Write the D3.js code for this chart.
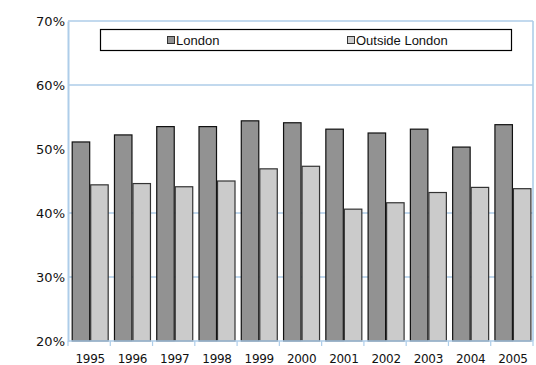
<!DOCTYPE html>
<html>
<head>
<meta charset="utf-8">
<script src="https://cdn.jsdelivr.net/npm/d3@7/dist/d3.min.js"></script>
<style>
  html, body { margin: 0; padding: 0; background: #fff; }
  svg { display: block; }
</style>
</head>
<body>
<svg id="chart" width="536" height="365"></svg>
<script>
// Yearly shares, London vs the rest of the country
const years = ["1995", "1996", "1997", "1998", "1999", "2000", "2001", "2002", "2003", "2004", "2005"];
const london = [51.1, 52.2, 53.5, 53.5, 54.4, 54.1, 53.1, 52.5, 53.1, 50.3, 53.8];
const outsideLondon = [44.4, 44.6, 44.1, 45.0, 46.9, 47.3, 40.6, 41.6, 43.2, 44.0, 43.8];
const seriesNames = ["London", "Outside London"];
const yTicks = [20, 30, 40, 50, 60, 70];
const gridValues = [30, 40, 60, 70];

const svg = d3.select("#chart");
const plotLeft = 68, plotRight = 533, plotTop = 21, plotBottom = 341;
const blue = "#aecde9";
const fills = ["#929292", "#cbcbcb"];
const strokes = ["#111", "#333"];

const y = d3.scaleLinear().domain([20, 70]).range([plotBottom, plotTop]);
const x0 = d3.scaleBand().domain(years).range([plotLeft, plotRight])
  .paddingInner(0.125).paddingOuter(0.0625).align(0.7);
const x1 = d3.scaleBand().domain(seriesNames).range([0, x0.bandwidth()]);
const groupStep = (plotRight - plotLeft) / years.length;

// horizontal gridlines
svg.append("g").selectAll("line").data(gridValues).join("line")
  .attr("x1", plotLeft).attr("x2", plotRight)
  .attr("y1", d => y(d)).attr("y2", d => y(d))
  .attr("stroke", blue).attr("stroke-width", 1.6);

// right frame edge
svg.append("line")
  .attr("x1", plotRight).attr("x2", plotRight).attr("y1", plotTop).attr("y2", plotBottom)
  .attr("stroke", blue).attr("stroke-width", 1.6);

// bars
const rows = years.map((yr, i) => ({ year: yr, values: [london[i], outsideLondon[i]] }));
const groups = svg.append("g").selectAll("g").data(rows).join("g")
  .attr("transform", d => `translate(${x0(d.year)},0)`);
groups.selectAll("rect")
  .data(d => d.values.map((v, k) => ({ key: seriesNames[k], k, v })))
  .join("rect")
  .attr("x", d => x1(d.key) + 0.5)
  .attr("width", x1.bandwidth() - 1)
  .attr("y", d => y(d.v))
  .attr("height", d => y(20) - y(d.v))
  .attr("fill", d => fills[d.k])
  .attr("stroke", d => strokes[d.k])
  .attr("stroke-width", 1.2);

// y axis
const yAxis = d3.axisLeft(y).tickValues(yTicks).tickSize(0).tickPadding(3)
  .tickFormat(d => d + "%");
const gy = svg.append("g").attr("transform", `translate(${plotLeft},0)`).call(yAxis);
gy.select(".domain").attr("stroke", blue).attr("stroke-width", 2);
gy.selectAll("text")
  .attr("font-family", "DejaVu Sans").attr("font-size", 13).attr("fill", "#111");

// x axis with boundary ticks between year groups
svg.append("line")
  .attr("x1", plotLeft).attr("x2", plotRight).attr("y1", plotBottom).attr("y2", plotBottom)
  .attr("stroke", blue).attr("stroke-width", 1.6);
svg.append("g").selectAll("line").data(d3.range(years.length + 1)).join("line")
  .attr("x1", i => plotLeft + i * groupStep).attr("x2", i => plotLeft + i * groupStep)
  .attr("y1", plotBottom).attr("y2", plotBottom + 5)
  .attr("stroke", blue).attr("stroke-width", 1.2);

// year labels
svg.append("g").selectAll("text").data(years).join("text")
  .attr("x", d => x0(d) + x0.bandwidth() / 2)
  .attr("y", 363)
  .attr("text-anchor", "middle")
  .attr("font-family", "DejaVu Sans").attr("font-size", 12)
  .attr("letter-spacing", -0.3).attr("fill", "#111")
  .text(d => d);

// legend
const lg = svg.append("g");
lg.append("rect").attr("x", 100.5).attr("y", 29.5).attr("width", 411).attr("height", 21)
  .attr("fill", "#fff").attr("stroke", "#000").attr("stroke-width", 1.2);
const legendX = [167, 347];
seriesNames.forEach((name, k) => {
  lg.append("rect").attr("x", legendX[k] + 0.5).attr("y", 36.5).attr("width", 7).attr("height", 7)
    .attr("fill", fills[k]).attr("stroke", "#333").attr("stroke-width", 1);
  lg.append("text").attr("x", legendX[k] + 9).attr("y", 44.5)
    .attr("font-family", "Liberation Sans").attr("font-size", 13).attr("fill", "#111")
    .text(name);
});
</script>
</body>
</html>
